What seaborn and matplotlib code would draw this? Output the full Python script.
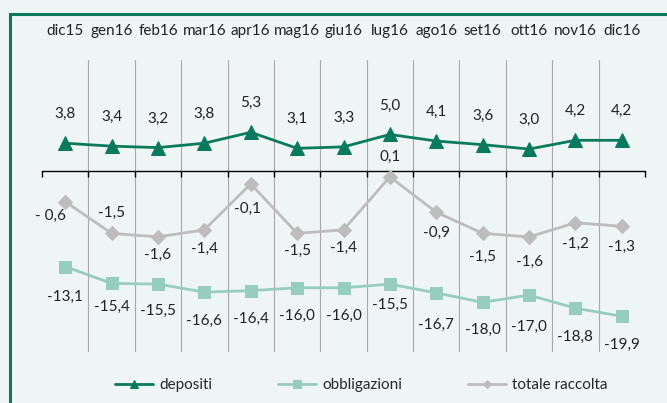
import matplotlib
matplotlib.use("Agg")
import matplotlib.pyplot as plt
import matplotlib.patches as patches
import numpy as np
import seaborn as sns

sns.set_style("white")
plt.rcParams['font.family'] = ['Lato', 'DejaVu Sans']

# Dati (variazioni % annue)
mesi = ['dic15', 'gen16', 'feb16', 'mar16', 'apr16', 'mag16', 'giu16',
        'lug16', 'ago16', 'set16', 'ott16', 'nov16', 'dic16']
depositi = [3.8, 3.4, 3.2, 3.8, 5.3, 3.1, 3.3, 5.0, 4.1, 3.6, 3.0, 4.2, 4.2]
obbligazioni = [-13.1, -15.4, -15.5, -16.6, -16.4, -16.0, -16.0,
                -15.5, -16.7, -18.0, -17.0, -18.8, -19.9]
totale_raccolta = [-0.6, -1.5, -1.6, -1.4, -0.1, -1.5, -1.4,
                   0.1, -0.9, -1.5, -1.6, -1.2, -1.3]

# colori
sfondo = '#eef5f4'
verde = '#0b7a5c'
menta = '#96cdbf'
grigio = '#bdbdbd'

# spostamento etichette (pixel, y positivo = in basso)
off_dep = [(0, -29)] * 13
off_obb = [(0, 30), (0, 24), (0, 27), (0, 29), (0, 28), (0, 28), (0, 28),
           (0, 21), (0, 32), (0, 28), (0, 32), (0, 29), (0, 29)]
off_tot = [(-15, 14), (0, -20), (0, 18), (0, 19), (-3, 25), (0, 18), (0, 18),
           (0, -20), (0, 21), (0, 24), (0, 25), (0, 21), (0, 21)]

W, H = 667, 403
fig = plt.figure(figsize=(W / 100, H / 100), dpi=100)
fig.patch.set_facecolor(sfondo)

# cornice verde (tagliata a destra e in basso)
fig.patches.append(patches.Rectangle((10 / W, -0.1), 1.2, (H - 14) / H + 0.1,
                                     transform=fig.transFigure, fill=False,
                                     edgecolor=verde, linewidth=2.2, clip_on=False))

ax = fig.add_axes([42 / W, (H - 352) / H, (645 - 42) / W, (352 - 60) / H])
ax.set_facecolor('none')
x = np.arange(len(mesi))

# griglia verticale tra i mesi
for b in np.arange(0.5, len(mesi) - 1, 1):
    ax.axvline(b, color='#a8a8a8', linewidth=0.8, zorder=0)

sns.lineplot(x=x, y=depositi, ax=ax, color=verde, marker='^', markersize=10,
             markeredgecolor=verde, linewidth=2, label='depositi', zorder=4)
sns.lineplot(x=x, y=obbligazioni, ax=ax, color=menta, marker='s', markersize=9,
             markeredgecolor=menta, linewidth=2, label='obbligazioni', zorder=3)

ax.set_xlim(-0.5, len(mesi) - 0.5)
ax.set_ylim(-24.8, 15.2)

# asse secondario (nascosto) per il totale raccolta
ax2 = ax.twinx()
ax2.set_facecolor('none')
sns.lineplot(x=x, y=totale_raccolta, ax=ax2, color=grigio, marker='D', markersize=7,
             markeredgecolor=grigio, linewidth=2, label='totale raccolta', zorder=3)
ax2.set_ylim(-4.86, 3.41)
ax2.set_xlim(-0.5, len(mesi) - 0.5)

for a in (ax, ax2):
    for s in a.spines.values():
        s.set_visible(False)
    a.set_yticks([])
    a.set_ylabel('')
    if a.get_legend():
        a.get_legend().remove()

# asse orizzontale sullo zero con tacche fra i mesi
ax.spines['bottom'].set_visible(True)
ax.spines['bottom'].set_position(('data', 0))
ax.spines['bottom'].set_color('black')
ax.spines['bottom'].set_linewidth(1)
ax.set_xticks(np.arange(-0.5, len(mesi), 1))
ax.tick_params(axis='x', direction='out', length=4, width=1, color='black',
               labelbottom=False, bottom=True)
ax2.tick_params(axis='x', length=0, labelbottom=False)

# nomi dei mesi in alto
for i, m in enumerate(mesi):
    ax.text(i, 1 + (60 - 31) / 292, m, transform=ax.get_xaxis_transform(),
            ha='center', va='center', fontsize=11, color='#222222')

def fmt(v):
    return f"{v:.1f}".replace('.', ',')

k = 0.72  # pixel -> punti
for i, v in enumerate(depositi):
    dx, dy = off_dep[i]
    ax.annotate(fmt(v), (i, v), xytext=(dx * k, -dy * k), textcoords='offset points',
                ha='center', va='center', fontsize=11, color='#222222')
for i, v in enumerate(obbligazioni):
    dx, dy = off_obb[i]
    ax.annotate(fmt(v), (i, v), xytext=(dx * k, -dy * k), textcoords='offset points',
                ha='center', va='center', fontsize=11, color='#222222')
for i, v in enumerate(totale_raccolta):
    dx, dy = off_tot[i]
    t = fmt(v)
    if i == 0:
        t = t.replace('-', '- ')
    ax2.annotate(t, (i, v), xytext=(dx * k, -dy * k), textcoords='offset points',
                 ha='center', va='center', fontsize=11, color='#222222')

# legenda
h1, l1 = ax.get_legend_handles_labels()
h2, l2 = ax2.get_legend_handles_labels()
fig.legend(h1 + h2, l1 + l2, loc='center', bbox_to_anchor=(361 / W, 1 - 385 / H),
           ncol=3, frameon=False, fontsize=11, handlelength=2.5, handletextpad=0.4,
           columnspacing=4.3, markerscale=0.6)

fig.savefig('out.png', dpi=100, facecolor=fig.get_facecolor())
